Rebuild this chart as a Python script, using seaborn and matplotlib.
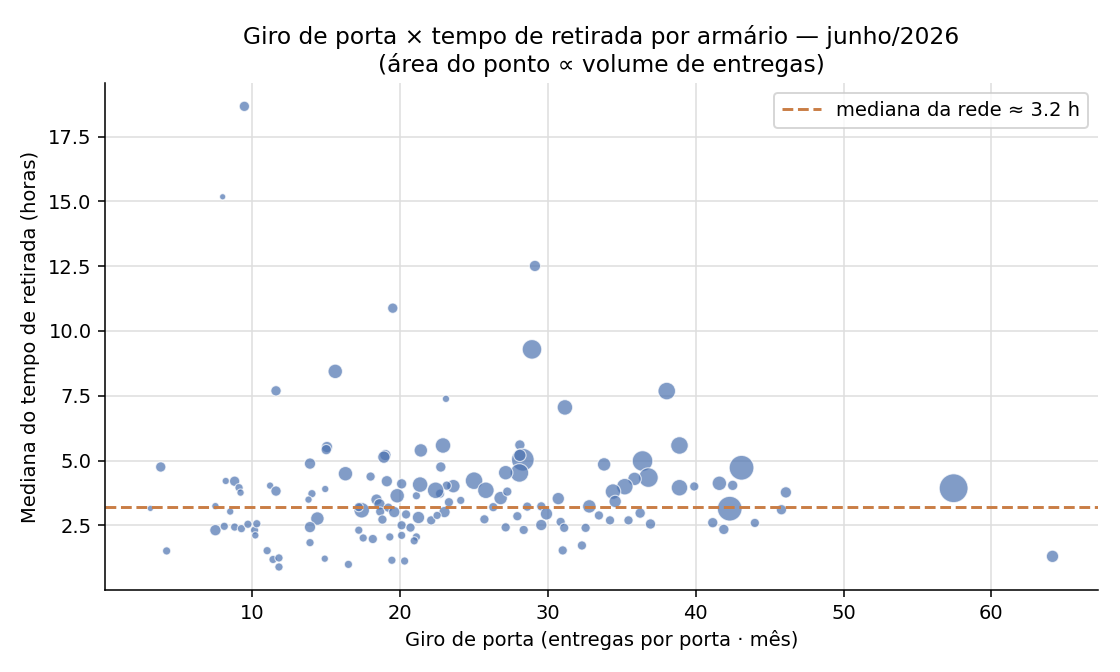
import matplotlib
matplotlib.use("Agg")
import matplotlib.pyplot as plt
import numpy as np
import pandas as pd
import seaborn as sns

# giro de porta (entregas por porta / mes)
giro = [9.46, 7.99, 29.12, 19.5, 28.92, 15.61, 11.6, 23.1, 31.15, 38.04,
        57.45, 64.14, 38.9, 43.1, 38.9, 39.9, 41.6, 42.5, 46.1, 42.3,
        45.8, 41.15, 41.9, 44.0, 33.8, 36.4, 36.8, 35.86, 35.2, 34.4,
        34.55, 32.8, 33.45, 34.2, 35.45, 36.24, 36.94, 22.9, 28.1, 28.3,
        28.1, 28.07, 27.14, 25.0, 25.8, 26.8, 27.25, 24.1, 23.6, 23.15,
        22.75, 23.3, 23.0, 26.3, 25.7, 27.14, 27.93, 28.36, 28.6, 29.55,
        29.9, 29.55, 30.7, 30.86, 31.1, 31.0, 32.3, 32.55, 22.7, 15.05,
        15.0, 13.9, 16.3, 18.0, 19.0, 18.9, 19.1, 20.1, 19.8, 21.1,
        21.35, 21.4, 22.4, 14.93, 14.03, 13.8, 14.4, 13.9, 13.9, 14.9,
        16.5, 17.4, 17.2, 18.4, 18.6, 18.65, 19.2, 18.8, 19.6, 20.4,
        20.1, 20.7, 21.24, 22.1, 22.5, 21.1, 20.95, 20.1, 19.3, 18.15,
        17.5, 17.2, 19.44, 20.3, 3.8, 3.1, 4.2, 7.5, 7.5, 8.2,
        8.8, 9.1, 9.2, 8.5, 8.1, 8.8, 9.26, 9.7, 10.15, 10.2,
        10.3, 11.2, 11.6, 11.0, 11.4, 11.8, 11.8]

# mediana do tempo de retirada (horas)
tempo = [18.67, 15.18, 12.51, 10.88, 9.29, 8.44, 7.69, 7.38, 7.05, 7.68,
         3.93, 1.30, 5.58, 4.72, 3.95, 4.0, 4.12, 4.04, 3.77, 3.14,
         3.10, 2.60, 2.34, 2.59, 4.85, 4.98, 4.34, 4.29, 3.99, 3.80,
         3.42, 3.23, 2.88, 2.69, 2.69, 2.97, 2.55, 5.58, 5.6, 5.03,
         5.2, 4.52, 4.53, 4.22, 3.85, 3.55, 3.80, 3.46, 4.01, 4.03,
         4.75, 3.39, 3.01, 3.2, 2.73, 2.42, 2.85, 2.32, 3.22, 3.23,
         2.94, 2.51, 3.53, 2.63, 2.4, 1.53, 1.72, 2.4, 3.72, 5.52,
         5.42, 4.88, 4.49, 4.38, 5.21, 5.13, 4.2, 4.1, 3.64, 3.64,
         4.07, 5.39, 3.85, 3.9, 3.72, 3.49, 2.76, 2.43, 1.83, 1.21,
         0.99, 3.08, 3.2, 3.49, 3.31, 3.03, 3.18, 2.72, 3.01, 2.92,
         2.5, 2.41, 2.8, 2.69, 2.88, 2.05, 1.9, 2.11, 2.05, 1.97,
         2.01, 2.31, 1.15, 1.12, 4.75, 3.15, 1.51, 3.24, 2.31, 4.21,
         4.2, 3.95, 3.76, 3.03, 2.46, 2.43, 2.37, 2.54, 2.31, 2.11,
         2.56, 4.03, 3.82, 1.52, 1.18, 1.24, 0.89]

# volume de entregas (define a area do ponto)
volume = [300, 110, 360, 300, 1080, 590, 300, 150, 680, 870,
          2350, 430, 870, 1730, 770, 240, 590, 300, 360, 1730,
          300, 300, 300, 240, 510, 1200, 1080, 510, 770, 680,
          430, 510, 240, 240, 240, 300, 300, 680, 300, 1450,
          430, 970, 590, 870, 770, 510, 240, 190, 510, 240,
          300, 240, 360, 240, 240, 240, 240, 240, 240, 240,
          430, 360, 430, 240, 240, 240, 240, 240, 240, 360,
          300, 360, 590, 240, 360, 430, 360, 300, 590, 190,
          680, 510, 770, 150, 190, 150, 510, 360, 190, 150,
          190, 680, 240, 360, 360, 240, 240, 240, 360, 240,
          240, 240, 430, 240, 190, 190, 190, 190, 190, 240,
          190, 190, 190, 190, 300, 110, 190, 150, 360, 150,
          300, 190, 150, 150, 190, 190, 190, 190, 190, 150,
          190, 150, 300, 190, 190, 190, 190]

mediana_rede = 3.2

df = pd.DataFrame({"giro": giro, "tempo": tempo, "volume": volume})

sns.set_style("whitegrid", {"axes.edgecolor": "black", "xtick.bottom": True,
                            "ytick.left": True, "grid.color": ".87",
                            "text.color": "black", "axes.labelcolor": "black",
                            "xtick.color": "black", "ytick.color": "black"})

fig, ax = plt.subplots(figsize=(8, 4.8), dpi=140)
fig.subplots_adjust(left=0.094, right=0.980, bottom=0.122, top=0.876)

sns.scatterplot(data=df, x="giro", y="tempo", size="volume",
                sizes=(0, 220), size_norm=(0, max(volume)),
                color="#4C72B0", alpha=0.7, edgecolor="white",
                linewidth=0.6, legend=False, ax=ax)

ax.axhline(mediana_rede, color="#c97d45", ls="--", lw=1.5,
           label=f"mediana da rede ≈ {mediana_rede:.1f} h")

ax.set_title("Giro de porta × tempo de retirada por armário — junho/2026\n"
             "(área do ponto ∝ volume de entregas)", fontsize=12)
ax.set_xlabel("Giro de porta (entregas por porta · mês)")
ax.set_ylabel("Mediana do tempo de retirada (horas)")
ax.legend(loc="upper right", fontsize=10)
sns.despine(ax=ax)

fig.savefig("out.png", dpi=140)
